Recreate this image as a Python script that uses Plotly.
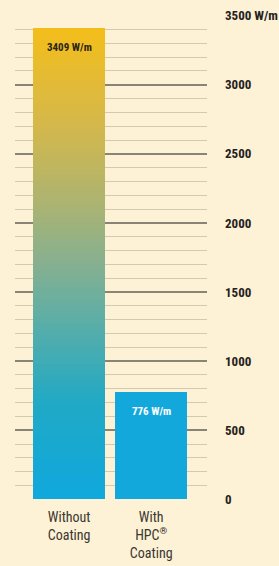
import plotly.graph_objects as go

categories = ["Without<br>Coating", "With<br>HPC<sup>®</sup><br>Coating"]
values = [3409, 776]
value_labels = ["3409 W/m", "776 W/m"]
tick_vals = [0, 500, 1000, 1500, 2000, 2500, 3000, 3500]
tick_text = ["0", "500", "1000", "1500", "2000", "2500", "3000", "3500 W/m"]

BG = "#FDF2D6"
CYAN = "#12A8DC"
stops = [(0.0, (0x10, 0xA8, 0xDE)), (0.2, (0x1F, 0xA9, 0xC6)), (0.35, (0x52, 0xAD, 0xAC)),
         (0.5, (0x86, 0xB0, 0x90)), (0.65, (0xB2, 0xB4, 0x6C)), (0.8, (0xD5, 0xB8, 0x4A)),
         (1.0, (0xF4, 0xBE, 0x1A))]

def interp(t):
    for (t0, c0), (t1, c1) in zip(stops[:-1], stops[1:]):
        if t0 <= t <= t1:
            f = (t - t0) / (t1 - t0)
            return "rgb(%d,%d,%d)" % tuple(round(a + (b - a) * f) for a, b in zip(c0, c1))
    return "rgb(%d,%d,%d)" % stops[-1][1]

FONT = "Roboto Condensed, Liberation Sans Narrow, Arial Narrow, Roboto, sans-serif"
N = 80
seg = values[0] / N
bases = [i * seg for i in range(N)]
colors = [interp((i + 0.5) / N) for i in range(N)]

fig = go.Figure()
fig.add_trace(go.Bar(x=[0] * N, y=[seg * 1.01] * N, base=bases, width=0.88,
                     marker=dict(color=colors, line=dict(width=0)), showlegend=False,
                     hoverinfo="skip"))
fig.add_trace(go.Bar(x=[1], y=[values[1]], width=0.88,
                     marker=dict(color=CYAN, line=dict(width=0)), showlegend=False))

for i, (v, lab) in enumerate(zip(values, value_labels)):
    fig.add_annotation(x=i, y=v, text="<b>%s</b>" % lab, showarrow=False, yanchor="top",
                       yshift=-11, font=dict(family=FONT, size=11,
                                              color="#2a2418" if i == 0 else "white"))

fig.update_layout(
    width=279, height=566, paper_bgcolor=BG, plot_bgcolor=BG,
    margin=dict(l=15, r=72, t=15, b=66), barmode="overlay", bargap=0,
    font=dict(family=FONT),
    xaxis=dict(range=[-0.66, 1.68], tickvals=[0, 1], ticktext=categories,
               showgrid=False, zeroline=False, showline=False, automargin=False,
               ticklabelstandoff=7,
               tickfont=dict(family=FONT, size=14, color="#3a3630")),
    yaxis=dict(range=[-5, 3505], side="right", tickvals=tick_vals, automargin=False,
               ticktext=["<b>%s</b>" % t for t in tick_text],
               tickfont=dict(family=FONT, size=13, color="#24211d"),
               showgrid=True, gridcolor="#8a8476", gridwidth=1.6, zeroline=False,
               ticklabelstandoff=17,
               minor=dict(dtick=100, showgrid=True, gridcolor="#d2c9b0", gridwidth=1)),
)
fig.write_html("out.html", config={"displayModeBar": False},
               post_script="document.body.style.margin='0';document.body.style.overflow='hidden';")
